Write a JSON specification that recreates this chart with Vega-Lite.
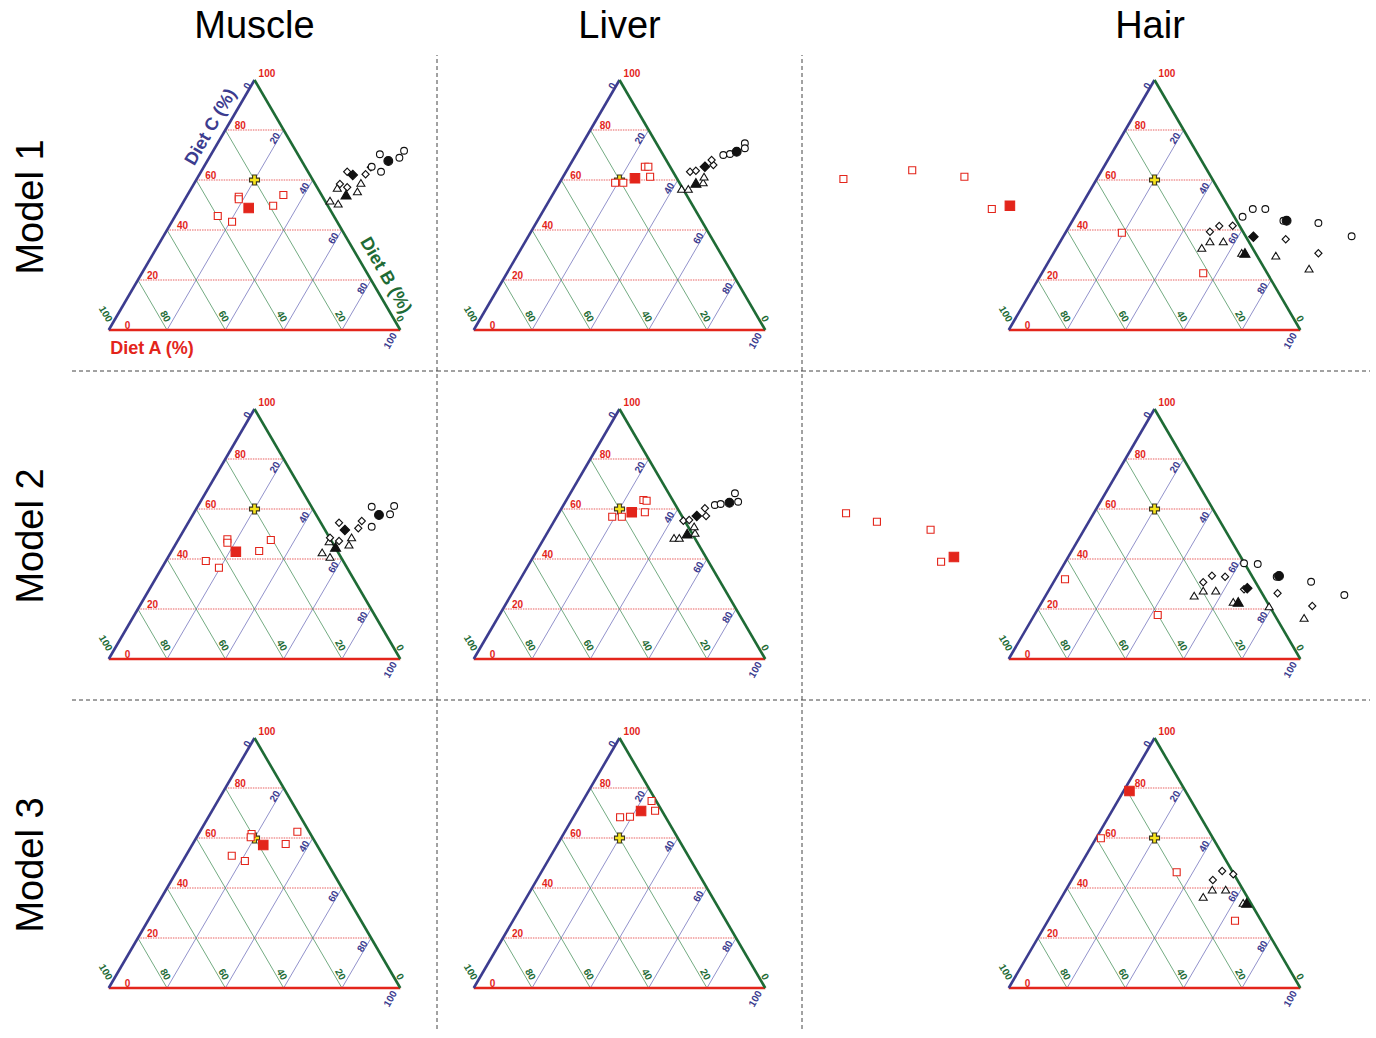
{
"$schema":"https://vega.github.io/schema/vega-lite/v6.json",
"background":"white",
"padding":{"left":12,"top":8,"right":0,"bottom":0},
"config":{"view":{"stroke":null},"font":"Liberation Sans","concat":{"spacing":0}},
"datasets":{
"gr":[{"x":10,"y":20,"x2":90,"y2":20},{"x":20,"y":40,"x2":80,"y2":40},{"x":30,"y":60,"x2":70,"y2":60},{"x":40,"y":80,"x2":60,"y2":80}],
"gbg":[{"c":"b","x":20,"y":0,"x2":60,"y2":80},{"c":"b","x":40,"y":0,"x2":70,"y2":60},{"c":"b","x":60,"y":0,"x2":80,"y2":40},{"c":"b","x":80,"y":0,"x2":90,"y2":20},{"c":"g","x":80,"y":0,"x2":40,"y2":80},{"c":"g","x":60,"y":0,"x2":30,"y2":60},{"c":"g","x":40,"y":0,"x2":20,"y2":40},{"c":"g","x":20,"y":0,"x2":10,"y2":20}],
"edges":[{"c":"er","x":0,"y":0,"x2":100,"y2":0},{"c":"eb","x":0,"y":0,"x2":50,"y2":100},{"c":"eg","x":100,"y":0,"x2":50,"y2":100}],
"tr":[{"t":"0","x":5.5,"y":0},{"t":"20","x":13.1,"y":20},{"t":"40","x":23.4,"y":40},{"t":"60","x":33.1,"y":60},{"t":"80","x":43.2,"y":80},{"t":"100","x":51.4,"y":101}],
"tb":[{"t":"0","x":50,"y":100},{"t":"20","x":60,"y":80},{"t":"40","x":70,"y":60},{"t":"60","x":80,"y":40},{"t":"80","x":90,"y":20},{"t":"100","x":100,"y":0}],
"tg":[{"t":"100","x":0,"y":0},{"t":"80","x":20,"y":0},{"t":"60","x":40,"y":0},{"t":"40","x":60,"y":0},{"t":"20","x":80,"y":0},{"t":"0","x":100,"y":0}],
"sepV1":[{"x":112.6,"y":-16.4,"y2":110}],
"sepV":[{"x":112.6,"y":-16.4,"y2":115.2}],
"sepHML":[{"x":-12.6,"x2":112.6,"y":-16.4}],
"sepHH":[{"x":-70.9,"x2":123.9,"y":-16.4}],
"ttA":[{"t":"Diet A (%)","x":0.5,"y":-9.6}],
"ttC":[{"t":"Diet C (%)","x":35.1,"y":81.1}],
"ttB":[{"t":"Diet B (%)","x":94.85,"y":21.7}],
"pM1":[{"s":"pl","x":50,"y":60},{"s":"sqo","x":44.6,"y":53.3},{"s":"sqo","x":44.6,"y":52.3},{"s":"sqo","x":37.4,"y":45.6},{"s":"sqo","x":42.3,"y":43.3},{"s":"sqo","x":56.4,"y":49.7},{"s":"sqo","x":59.9,"y":54.0},{"s":"sqf","x":48.0,"y":48.8},{"s":"tro","x":75.9,"y":51.6},{"s":"tro","x":78.7,"y":50.4},{"s":"tro","x":78.4,"y":56.7},{"s":"tro","x":85.3,"y":55.3},{"s":"tro","x":86.5,"y":58.7},{"s":"dio","x":79.3,"y":58.4},{"s":"dio","x":81.8,"y":57.1},{"s":"dio","x":81.8,"y":63.3},{"s":"dio","x":88.1,"y":62.3},{"s":"dio","x":89.9,"y":65.1},{"s":"cio","x":90.2,"y":65.3},{"s":"cio","x":93.4,"y":63.3},{"s":"cio","x":93.0,"y":70.3},{"s":"cio","x":99.7,"y":68.9},{"s":"cio","x":101.3,"y":71.7},{"s":"trf","x":81.4,"y":54.0},{"s":"dif","x":83.7,"y":62.0},{"s":"cif","x":95.9,"y":67.6}],
"pL1":[{"s":"pl","x":50,"y":60},{"s":"sqo","x":48.5,"y":58.9},{"s":"sqo","x":51.3,"y":58.9},{"s":"sqo","x":58.7,"y":65.3},{"s":"sqo","x":59.9,"y":65.3},{"s":"sqo","x":60.5,"y":61.3},{"s":"sqf","x":55.3,"y":60.7},{"s":"tro","x":71.3,"y":56.3},{"s":"tro","x":73.6,"y":56.3},{"s":"tro","x":78.7,"y":58.9},{"s":"tro","x":79.0,"y":61.2},{"s":"dio","x":74.2,"y":63.3},{"s":"dio","x":76.2,"y":63.7},{"s":"dio","x":82.2,"y":66.0},{"s":"dio","x":81.6,"y":68.0},{"s":"cio","x":85.6,"y":70.0},{"s":"cio","x":87.9,"y":70.4},{"s":"cio","x":93.0,"y":74.7},{"s":"cio","x":93.0,"y":72.7},{"s":"trf","x":76.2,"y":58.7},{"s":"dif","x":79.3,"y":65.3},{"s":"cif","x":90.2,"y":71.3}],
"pH1":[{"s":"pl","x":50,"y":60},{"s":"sqo","x":-56.7,"y":60.4},{"s":"sqo","x":-33.1,"y":63.9},{"s":"sqo","x":-15.2,"y":61.3},{"s":"sqo","x":-5.8,"y":48.4},{"s":"sqo","x":38.8,"y":38.9},{"s":"sqo","x":66.7,"y":22.7},{"s":"sqf","x":0.4,"y":49.7},{"s":"tro","x":66.2,"y":32.7},{"s":"tro","x":69.0,"y":35.3},{"s":"tro","x":73.6,"y":35.3},{"s":"tro","x":91.6,"y":29.6},{"s":"tro","x":103.0,"y":24.4},{"s":"tro","x":79.9,"y":30.7},{"s":"dio","x":69.0,"y":39.3},{"s":"dio","x":72.2,"y":41.6},{"s":"dio","x":76.8,"y":41.7},{"s":"dio","x":95.0,"y":36.3},{"s":"dio","x":106.2,"y":30.7},{"s":"cio","x":80.2,"y":45.3},{"s":"cio","x":83.7,"y":48.4},{"s":"cio","x":88.0,"y":48.4},{"s":"cio","x":106.2,"y":42.8},{"s":"cio","x":117.6,"y":37.5},{"s":"cio","x":94.2,"y":43.7},{"s":"trf","x":81.0,"y":30.7},{"s":"dif","x":83.9,"y":37.3},{"s":"cif","x":95.3,"y":43.7}],
"pM2":[{"s":"pl","x":50,"y":60},{"s":"sqo","x":40.7,"y":47.9},{"s":"sqo","x":40.7,"y":46.5},{"s":"sqo","x":55.6,"y":47.6},{"s":"sqo","x":51.6,"y":43.2},{"s":"sqo","x":33.3,"y":39.2},{"s":"sqo","x":37.8,"y":36.5},{"s":"sqf","x":43.6,"y":42.9},{"s":"tro","x":83.3,"y":48.5},{"s":"tro","x":82.4,"y":45.6},{"s":"tro","x":73.2,"y":42.5},{"s":"tro","x":75.9,"y":40.7},{"s":"tro","x":75.6,"y":46.9},{"s":"dio","x":79.0,"y":54.5},{"s":"dio","x":86.8,"y":55.2},{"s":"dio","x":85.6,"y":52.3},{"s":"dio","x":75.9,"y":48.5},{"s":"dio","x":79.0,"y":47.2},{"s":"cio","x":90.2,"y":60.9},{"s":"cio","x":97.9,"y":61.2},{"s":"cio","x":96.5,"y":57.9},{"s":"cio","x":90.2,"y":52.9},{"s":"trf","x":77.8,"y":44.7},{"s":"dif","x":81.0,"y":51.6},{"s":"cif","x":92.7,"y":57.6}],
"pL2":[{"s":"pl","x":50,"y":60},{"s":"sqo","x":58.2,"y":63.6},{"s":"sqo","x":59.3,"y":63.3},{"s":"sqo","x":58.7,"y":58.7},{"s":"sqo","x":47.5,"y":56.9},{"s":"sqo","x":50.8,"y":56.9},{"s":"sqf","x":54.2,"y":58.7},{"s":"tro","x":68.7,"y":48.3},{"s":"tro","x":70.5,"y":48.3},{"s":"tro","x":75.9,"y":50.3},{"s":"tro","x":75.6,"y":52.9},{"s":"dio","x":71.9,"y":55.3},{"s":"dio","x":73.9,"y":55.6},{"s":"dio","x":79.3,"y":60.3},{"s":"dio","x":79.7,"y":57.2},{"s":"cio","x":82.7,"y":61.6},{"s":"cio","x":84.7,"y":62.0},{"s":"cio","x":89.6,"y":66.3},{"s":"cio","x":90.7,"y":62.9},{"s":"trf","x":73.2,"y":50.0},{"s":"dif","x":76.5,"y":57.2},{"s":"cif","x":87.7,"y":62.5}],
"pH2":[{"s":"pl","x":50,"y":60},{"s":"sqo","x":-55.8,"y":58.3},{"s":"sqo","x":-45.2,"y":54.9},{"s":"sqo","x":-26.8,"y":51.7},{"s":"sqo","x":-23.2,"y":38.9},{"s":"sqo","x":19.3,"y":31.9},{"s":"sqo","x":51.1,"y":17.6},{"s":"sqf","x":-18.8,"y":40.8},{"s":"tro","x":63.6,"y":25.2},{"s":"tro","x":66.7,"y":27.2},{"s":"tro","x":71.0,"y":27.2},{"s":"tro","x":89.3,"y":20.9},{"s":"tro","x":101.3,"y":16.3},{"s":"tro","x":77.0,"y":22.7},{"s":"dio","x":66.7,"y":30.7},{"s":"dio","x":69.7,"y":33.3},{"s":"dio","x":74.2,"y":32.9},{"s":"dio","x":92.2,"y":26.3},{"s":"dio","x":104.1,"y":21.2},{"s":"dio","x":80.7,"y":27.9},{"s":"cio","x":80.7,"y":38.3},{"s":"cio","x":85.4,"y":38.0},{"s":"cio","x":103.7,"y":30.9},{"s":"cio","x":115.1,"y":25.6},{"s":"cio","x":91.9,"y":32.9},{"s":"trf","x":78.7,"y":22.7},{"s":"dif","x":81.8,"y":28.3},{"s":"cif","x":92.7,"y":33.2}],
"pM3":[{"s":"pl","x":50,"y":60},{"s":"sqo","x":49.0,"y":61.6},{"s":"sqo","x":48.7,"y":60.3},{"s":"sqo","x":64.7,"y":62.5},{"s":"sqo","x":60.7,"y":57.6},{"s":"sqo","x":42.2,"y":52.9},{"s":"sqo","x":46.7,"y":50.8},{"s":"sqf","x":53.0,"y":57.2}],
"pL3":[{"s":"pl","x":50,"y":60},{"s":"sqo","x":50.2,"y":68.3},{"s":"sqo","x":53.6,"y":68.5},{"s":"sqo","x":61.0,"y":74.8},{"s":"sqo","x":62.2,"y":70.9},{"s":"sqf","x":57.4,"y":70.8}],
"pH3":[{"s":"pl","x":50,"y":60},{"s":"sqo","x":31.6,"y":59.9},{"s":"sqo","x":57.6,"y":46.3},{"s":"sqo","x":77.6,"y":26.9},{"s":"sqf","x":41.4,"y":78.8},{"s":"tro","x":66.7,"y":36.3},{"s":"tro","x":69.8,"y":39.2},{"s":"tro","x":74.4,"y":39.2},{"s":"tro","x":80.4,"y":33.9},{"s":"dio","x":70.0,"y":43.2},{"s":"dio","x":73.2,"y":46.8},{"s":"dio","x":77.0,"y":45.5},{"s":"trf","x":81.6,"y":33.9}]
},
"columns":3,
"spacing":0,
"bounds":"flush",
"resolve":{"scale":{"x":"independent","y":"independent"}},
"concat":[
{"width":365,"height":329,
"title":{"text":"Muscle","fontSize":38,"fontWeight":"normal","color":"black","baseline":"alphabetic","offset":-34,"anchor":"middle"},
"encoding":{"x":{"field":"x","type":"quantitative","scale":{"domain":[-12.6,112.6],"nice":false,"zero":false},"axis":null},
"y":{"field":"y","type":"quantitative","scale":{"domain":[-16.4,115.2],"nice":false,"zero":false},"axis":{"title":"Model 1","titleFontSize":38,"titleFontWeight":"normal","titleColor":"black","labels":false,"ticks":false,"domain":false,"grid":false,"titlePadding":22}}},
"layer":[
{"data":{"name":"gr"},"mark":{"type":"rule","color":"#F09595","strokeWidth":1.4,"strokeDash":[1.5,1]},"encoding":{"x2":{"field":"x2"},"y2":{"field":"y2"}}},
{"data":{"name":"gbg"},"mark":{"type":"rule","strokeWidth":0.8},"encoding":{"x2":{"field":"x2"},"y2":{"field":"y2"},"color":{"field":"c","type":"nominal","scale":{"domain":["b","g","eb","eg","er"],"range":["#7676BE","#4F9562","#3C3C8F","#1E6B35","#E3251B"]},"legend":null}}},
{"data":{"name":"edges"},"mark":{"type":"rule","strokeWidth":2.6},"encoding":{"x2":{"field":"x2"},"y2":{"field":"y2"},"color":{"field":"c","type":"nominal","scale":{"domain":["b","g","eb","eg","er"],"range":["#7676BE","#4F9562","#3C3C8F","#1E6B35","#E3251B"]},"legend":null}}},
{"data":{"name":"tr"},"mark":{"type":"text","align":"left","baseline":"alphabetic","dy":-1,"fontSize":10,"fontWeight":"bold","color":"#E3251B"},"encoding":{"text":{"field":"t","type":"nominal"}}},
{"data":{"name":"tb"},"mark":{"type":"text","align":"right","baseline":"middle","angle":300,"dx":-6,"dy":-3,"fontSize":10,"fontWeight":"bold","color":"#3C3C8F"},"encoding":{"text":{"field":"t","type":"nominal"}}},
{"data":{"name":"tg"},"mark":{"type":"text","align":"right","baseline":"middle","angle":60,"dx":-7,"dy":-5,"fontSize":10,"fontWeight":"bold","color":"#1E6B35"},"encoding":{"text":{"field":"t","type":"nominal"}}},
{"data":{"name":"pM1"},"mark":{"type":"point","filled":true,"opacity":1,"size":100,"strokeWidth":1.1},"encoding":{"shape":{"field":"s","type":"nominal","scale":{"domain":["pl","sqo","sqf","tro","dio","cio","trf","dif","cif"],"range":["M-0.38,-1H0.38V-0.38H1V0.38H0.38V1H-0.38V0.38H-1V-0.38H-0.38Z","M-0.7,-0.7H0.7V0.7H-0.7Z","M-0.95,-0.95H0.95V0.95H-0.95Z","M0,-0.75L0.8,0.6L-0.8,0.6Z","M0,-0.72L0.72,0L0,0.72L-0.72,0Z","M0.68,0A0.68,0.68,0,1,1,-0.68,0A0.68,0.68,0,1,1,0.68,0Z","M0,-0.95L1,0.8L-1,0.8Z","M0,-0.95L0.95,0L0,0.95L-0.95,0Z","M0.88,0A0.88,0.88,0,1,1,-0.88,0A0.88,0.88,0,1,1,0.88,0Z"]},"legend":null},"fill":{"field":"s","type":"nominal","scale":{"domain":["pl","sqo","sqf","tro","dio","cio","trf","dif","cif"],"range":["#F6E41C","white","#E3251B","white","white","white","#111111","#111111","#111111"]},"legend":null},"stroke":{"field":"s","type":"nominal","scale":{"domain":["pl","sqo","sqf","tro","dio","cio","trf","dif","cif"],"range":["#3B3520","#E3251B","#E3251B","#111111","#111111","#111111","#111111","#111111","#111111"]},"legend":null}}},
{"data":{"name":"sepV1"},"mark":{"type":"rule","color":"#444444","strokeDash":[4,3],"strokeWidth":1},"encoding":{"y2":{"field":"y2"}}},
{"data":{"name":"sepHML"},"mark":{"type":"rule","color":"#444444","strokeDash":[4,3],"strokeWidth":1},"encoding":{"x2":{"field":"x2"}}},
{"data":{"name":"ttA"},"mark":{"type":"text","align":"left","baseline":"alphabetic","fontSize":18,"fontWeight":"bold","color":"#E3251B"},"encoding":{"text":{"field":"t","type":"nominal"}}},
{"data":{"name":"ttC"},"mark":{"type":"text","align":"center","baseline":"middle","angle":300,"fontSize":18,"fontWeight":"bold","color":"#3C3C8F"},"encoding":{"text":{"field":"t","type":"nominal"}}},
{"data":{"name":"ttB"},"mark":{"type":"text","align":"center","baseline":"middle","angle":60,"fontSize":18,"fontWeight":"bold","color":"#1E6B35"},"encoding":{"text":{"field":"t","type":"nominal"}}}
]},
{"width":365,"height":329,
"title":{"text":"Liver","fontSize":38,"fontWeight":"normal","color":"black","baseline":"alphabetic","offset":-34,"anchor":"middle"},
"encoding":{"x":{"field":"x","type":"quantitative","scale":{"domain":[-12.6,112.6],"nice":false,"zero":false},"axis":null},
"y":{"field":"y","type":"quantitative","scale":{"domain":[-16.4,115.2],"nice":false,"zero":false},"axis":null}},
"layer":[
{"data":{"name":"gr"},"mark":{"type":"rule","color":"#F09595","strokeWidth":1.4,"strokeDash":[1.5,1]},"encoding":{"x2":{"field":"x2"},"y2":{"field":"y2"}}},
{"data":{"name":"gbg"},"mark":{"type":"rule","strokeWidth":0.8},"encoding":{"x2":{"field":"x2"},"y2":{"field":"y2"},"color":{"field":"c","type":"nominal","scale":{"domain":["b","g","eb","eg","er"],"range":["#7676BE","#4F9562","#3C3C8F","#1E6B35","#E3251B"]},"legend":null}}},
{"data":{"name":"edges"},"mark":{"type":"rule","strokeWidth":2.6},"encoding":{"x2":{"field":"x2"},"y2":{"field":"y2"},"color":{"field":"c","type":"nominal","scale":{"domain":["b","g","eb","eg","er"],"range":["#7676BE","#4F9562","#3C3C8F","#1E6B35","#E3251B"]},"legend":null}}},
{"data":{"name":"tr"},"mark":{"type":"text","align":"left","baseline":"alphabetic","dy":-1,"fontSize":10,"fontWeight":"bold","color":"#E3251B"},"encoding":{"text":{"field":"t","type":"nominal"}}},
{"data":{"name":"tb"},"mark":{"type":"text","align":"right","baseline":"middle","angle":300,"dx":-6,"dy":-3,"fontSize":10,"fontWeight":"bold","color":"#3C3C8F"},"encoding":{"text":{"field":"t","type":"nominal"}}},
{"data":{"name":"tg"},"mark":{"type":"text","align":"right","baseline":"middle","angle":60,"dx":-7,"dy":-5,"fontSize":10,"fontWeight":"bold","color":"#1E6B35"},"encoding":{"text":{"field":"t","type":"nominal"}}},
{"data":{"name":"pL1"},"mark":{"type":"point","filled":true,"opacity":1,"size":100,"strokeWidth":1.1},"encoding":{"shape":{"field":"s","type":"nominal","scale":{"domain":["pl","sqo","sqf","tro","dio","cio","trf","dif","cif"],"range":["M-0.38,-1H0.38V-0.38H1V0.38H0.38V1H-0.38V0.38H-1V-0.38H-0.38Z","M-0.7,-0.7H0.7V0.7H-0.7Z","M-0.95,-0.95H0.95V0.95H-0.95Z","M0,-0.75L0.8,0.6L-0.8,0.6Z","M0,-0.72L0.72,0L0,0.72L-0.72,0Z","M0.68,0A0.68,0.68,0,1,1,-0.68,0A0.68,0.68,0,1,1,0.68,0Z","M0,-0.95L1,0.8L-1,0.8Z","M0,-0.95L0.95,0L0,0.95L-0.95,0Z","M0.88,0A0.88,0.88,0,1,1,-0.88,0A0.88,0.88,0,1,1,0.88,0Z"]},"legend":null},"fill":{"field":"s","type":"nominal","scale":{"domain":["pl","sqo","sqf","tro","dio","cio","trf","dif","cif"],"range":["#F6E41C","white","#E3251B","white","white","white","#111111","#111111","#111111"]},"legend":null},"stroke":{"field":"s","type":"nominal","scale":{"domain":["pl","sqo","sqf","tro","dio","cio","trf","dif","cif"],"range":["#3B3520","#E3251B","#E3251B","#111111","#111111","#111111","#111111","#111111","#111111"]},"legend":null}}},
{"data":{"name":"sepV1"},"mark":{"type":"rule","color":"#444444","strokeDash":[4,3],"strokeWidth":1},"encoding":{"y2":{"field":"y2"}}},
{"data":{"name":"sepHML"},"mark":{"type":"rule","color":"#444444","strokeDash":[4,3],"strokeWidth":1},"encoding":{"x2":{"field":"x2"}}}
]},
{"width":568,"height":329,
"title":{"text":"Hair","fontSize":38,"fontWeight":"normal","color":"black","baseline":"alphabetic","offset":-34,"anchor":"middle","dx":64},
"encoding":{"x":{"field":"x","type":"quantitative","scale":{"domain":[-70.9,123.9],"nice":false,"zero":false},"axis":null},
"y":{"field":"y","type":"quantitative","scale":{"domain":[-16.4,115.2],"nice":false,"zero":false},"axis":null}},
"layer":[
{"data":{"name":"gr"},"mark":{"type":"rule","color":"#F09595","strokeWidth":1.4,"strokeDash":[1.5,1]},"encoding":{"x2":{"field":"x2"},"y2":{"field":"y2"}}},
{"data":{"name":"gbg"},"mark":{"type":"rule","strokeWidth":0.8},"encoding":{"x2":{"field":"x2"},"y2":{"field":"y2"},"color":{"field":"c","type":"nominal","scale":{"domain":["b","g","eb","eg","er"],"range":["#7676BE","#4F9562","#3C3C8F","#1E6B35","#E3251B"]},"legend":null}}},
{"data":{"name":"edges"},"mark":{"type":"rule","strokeWidth":2.6},"encoding":{"x2":{"field":"x2"},"y2":{"field":"y2"},"color":{"field":"c","type":"nominal","scale":{"domain":["b","g","eb","eg","er"],"range":["#7676BE","#4F9562","#3C3C8F","#1E6B35","#E3251B"]},"legend":null}}},
{"data":{"name":"tr"},"mark":{"type":"text","align":"left","baseline":"alphabetic","dy":-1,"fontSize":10,"fontWeight":"bold","color":"#E3251B"},"encoding":{"text":{"field":"t","type":"nominal"}}},
{"data":{"name":"tb"},"mark":{"type":"text","align":"right","baseline":"middle","angle":300,"dx":-6,"dy":-3,"fontSize":10,"fontWeight":"bold","color":"#3C3C8F"},"encoding":{"text":{"field":"t","type":"nominal"}}},
{"data":{"name":"tg"},"mark":{"type":"text","align":"right","baseline":"middle","angle":60,"dx":-7,"dy":-5,"fontSize":10,"fontWeight":"bold","color":"#1E6B35"},"encoding":{"text":{"field":"t","type":"nominal"}}},
{"data":{"name":"pH1"},"mark":{"type":"point","filled":true,"opacity":1,"size":100,"strokeWidth":1.1},"encoding":{"shape":{"field":"s","type":"nominal","scale":{"domain":["pl","sqo","sqf","tro","dio","cio","trf","dif","cif"],"range":["M-0.38,-1H0.38V-0.38H1V0.38H0.38V1H-0.38V0.38H-1V-0.38H-0.38Z","M-0.7,-0.7H0.7V0.7H-0.7Z","M-0.95,-0.95H0.95V0.95H-0.95Z","M0,-0.75L0.8,0.6L-0.8,0.6Z","M0,-0.72L0.72,0L0,0.72L-0.72,0Z","M0.68,0A0.68,0.68,0,1,1,-0.68,0A0.68,0.68,0,1,1,0.68,0Z","M0,-0.95L1,0.8L-1,0.8Z","M0,-0.95L0.95,0L0,0.95L-0.95,0Z","M0.88,0A0.88,0.88,0,1,1,-0.88,0A0.88,0.88,0,1,1,0.88,0Z"]},"legend":null},"fill":{"field":"s","type":"nominal","scale":{"domain":["pl","sqo","sqf","tro","dio","cio","trf","dif","cif"],"range":["#F6E41C","white","#E3251B","white","white","white","#111111","#111111","#111111"]},"legend":null},"stroke":{"field":"s","type":"nominal","scale":{"domain":["pl","sqo","sqf","tro","dio","cio","trf","dif","cif"],"range":["#3B3520","#E3251B","#E3251B","#111111","#111111","#111111","#111111","#111111","#111111"]},"legend":null}}},
{"data":{"name":"sepHH"},"mark":{"type":"rule","color":"#444444","strokeDash":[4,3],"strokeWidth":1},"encoding":{"x2":{"field":"x2"}}}
]},
{"width":365,"height":329,
"encoding":{"x":{"field":"x","type":"quantitative","scale":{"domain":[-12.6,112.6],"nice":false,"zero":false},"axis":null},
"y":{"field":"y","type":"quantitative","scale":{"domain":[-16.4,115.2],"nice":false,"zero":false},"axis":{"title":"Model 2","titleFontSize":38,"titleFontWeight":"normal","titleColor":"black","labels":false,"ticks":false,"domain":false,"grid":false,"titlePadding":22}}},
"layer":[
{"data":{"name":"gr"},"mark":{"type":"rule","color":"#F09595","strokeWidth":1.4,"strokeDash":[1.5,1]},"encoding":{"x2":{"field":"x2"},"y2":{"field":"y2"}}},
{"data":{"name":"gbg"},"mark":{"type":"rule","strokeWidth":0.8},"encoding":{"x2":{"field":"x2"},"y2":{"field":"y2"},"color":{"field":"c","type":"nominal","scale":{"domain":["b","g","eb","eg","er"],"range":["#7676BE","#4F9562","#3C3C8F","#1E6B35","#E3251B"]},"legend":null}}},
{"data":{"name":"edges"},"mark":{"type":"rule","strokeWidth":2.6},"encoding":{"x2":{"field":"x2"},"y2":{"field":"y2"},"color":{"field":"c","type":"nominal","scale":{"domain":["b","g","eb","eg","er"],"range":["#7676BE","#4F9562","#3C3C8F","#1E6B35","#E3251B"]},"legend":null}}},
{"data":{"name":"tr"},"mark":{"type":"text","align":"left","baseline":"alphabetic","dy":-1,"fontSize":10,"fontWeight":"bold","color":"#E3251B"},"encoding":{"text":{"field":"t","type":"nominal"}}},
{"data":{"name":"tb"},"mark":{"type":"text","align":"right","baseline":"middle","angle":300,"dx":-6,"dy":-3,"fontSize":10,"fontWeight":"bold","color":"#3C3C8F"},"encoding":{"text":{"field":"t","type":"nominal"}}},
{"data":{"name":"tg"},"mark":{"type":"text","align":"right","baseline":"middle","angle":60,"dx":-7,"dy":-5,"fontSize":10,"fontWeight":"bold","color":"#1E6B35"},"encoding":{"text":{"field":"t","type":"nominal"}}},
{"data":{"name":"pM2"},"mark":{"type":"point","filled":true,"opacity":1,"size":100,"strokeWidth":1.1},"encoding":{"shape":{"field":"s","type":"nominal","scale":{"domain":["pl","sqo","sqf","tro","dio","cio","trf","dif","cif"],"range":["M-0.38,-1H0.38V-0.38H1V0.38H0.38V1H-0.38V0.38H-1V-0.38H-0.38Z","M-0.7,-0.7H0.7V0.7H-0.7Z","M-0.95,-0.95H0.95V0.95H-0.95Z","M0,-0.75L0.8,0.6L-0.8,0.6Z","M0,-0.72L0.72,0L0,0.72L-0.72,0Z","M0.68,0A0.68,0.68,0,1,1,-0.68,0A0.68,0.68,0,1,1,0.68,0Z","M0,-0.95L1,0.8L-1,0.8Z","M0,-0.95L0.95,0L0,0.95L-0.95,0Z","M0.88,0A0.88,0.88,0,1,1,-0.88,0A0.88,0.88,0,1,1,0.88,0Z"]},"legend":null},"fill":{"field":"s","type":"nominal","scale":{"domain":["pl","sqo","sqf","tro","dio","cio","trf","dif","cif"],"range":["#F6E41C","white","#E3251B","white","white","white","#111111","#111111","#111111"]},"legend":null},"stroke":{"field":"s","type":"nominal","scale":{"domain":["pl","sqo","sqf","tro","dio","cio","trf","dif","cif"],"range":["#3B3520","#E3251B","#E3251B","#111111","#111111","#111111","#111111","#111111","#111111"]},"legend":null}}},
{"data":{"name":"sepV"},"mark":{"type":"rule","color":"#444444","strokeDash":[4,3],"strokeWidth":1},"encoding":{"y2":{"field":"y2"}}},
{"data":{"name":"sepHML"},"mark":{"type":"rule","color":"#444444","strokeDash":[4,3],"strokeWidth":1},"encoding":{"x2":{"field":"x2"}}}
]},
{"width":365,"height":329,
"encoding":{"x":{"field":"x","type":"quantitative","scale":{"domain":[-12.6,112.6],"nice":false,"zero":false},"axis":null},
"y":{"field":"y","type":"quantitative","scale":{"domain":[-16.4,115.2],"nice":false,"zero":false},"axis":null}},
"layer":[
{"data":{"name":"gr"},"mark":{"type":"rule","color":"#F09595","strokeWidth":1.4,"strokeDash":[1.5,1]},"encoding":{"x2":{"field":"x2"},"y2":{"field":"y2"}}},
{"data":{"name":"gbg"},"mark":{"type":"rule","strokeWidth":0.8},"encoding":{"x2":{"field":"x2"},"y2":{"field":"y2"},"color":{"field":"c","type":"nominal","scale":{"domain":["b","g","eb","eg","er"],"range":["#7676BE","#4F9562","#3C3C8F","#1E6B35","#E3251B"]},"legend":null}}},
{"data":{"name":"edges"},"mark":{"type":"rule","strokeWidth":2.6},"encoding":{"x2":{"field":"x2"},"y2":{"field":"y2"},"color":{"field":"c","type":"nominal","scale":{"domain":["b","g","eb","eg","er"],"range":["#7676BE","#4F9562","#3C3C8F","#1E6B35","#E3251B"]},"legend":null}}},
{"data":{"name":"tr"},"mark":{"type":"text","align":"left","baseline":"alphabetic","dy":-1,"fontSize":10,"fontWeight":"bold","color":"#E3251B"},"encoding":{"text":{"field":"t","type":"nominal"}}},
{"data":{"name":"tb"},"mark":{"type":"text","align":"right","baseline":"middle","angle":300,"dx":-6,"dy":-3,"fontSize":10,"fontWeight":"bold","color":"#3C3C8F"},"encoding":{"text":{"field":"t","type":"nominal"}}},
{"data":{"name":"tg"},"mark":{"type":"text","align":"right","baseline":"middle","angle":60,"dx":-7,"dy":-5,"fontSize":10,"fontWeight":"bold","color":"#1E6B35"},"encoding":{"text":{"field":"t","type":"nominal"}}},
{"data":{"name":"pL2"},"mark":{"type":"point","filled":true,"opacity":1,"size":100,"strokeWidth":1.1},"encoding":{"shape":{"field":"s","type":"nominal","scale":{"domain":["pl","sqo","sqf","tro","dio","cio","trf","dif","cif"],"range":["M-0.38,-1H0.38V-0.38H1V0.38H0.38V1H-0.38V0.38H-1V-0.38H-0.38Z","M-0.7,-0.7H0.7V0.7H-0.7Z","M-0.95,-0.95H0.95V0.95H-0.95Z","M0,-0.75L0.8,0.6L-0.8,0.6Z","M0,-0.72L0.72,0L0,0.72L-0.72,0Z","M0.68,0A0.68,0.68,0,1,1,-0.68,0A0.68,0.68,0,1,1,0.68,0Z","M0,-0.95L1,0.8L-1,0.8Z","M0,-0.95L0.95,0L0,0.95L-0.95,0Z","M0.88,0A0.88,0.88,0,1,1,-0.88,0A0.88,0.88,0,1,1,0.88,0Z"]},"legend":null},"fill":{"field":"s","type":"nominal","scale":{"domain":["pl","sqo","sqf","tro","dio","cio","trf","dif","cif"],"range":["#F6E41C","white","#E3251B","white","white","white","#111111","#111111","#111111"]},"legend":null},"stroke":{"field":"s","type":"nominal","scale":{"domain":["pl","sqo","sqf","tro","dio","cio","trf","dif","cif"],"range":["#3B3520","#E3251B","#E3251B","#111111","#111111","#111111","#111111","#111111","#111111"]},"legend":null}}},
{"data":{"name":"sepV"},"mark":{"type":"rule","color":"#444444","strokeDash":[4,3],"strokeWidth":1},"encoding":{"y2":{"field":"y2"}}},
{"data":{"name":"sepHML"},"mark":{"type":"rule","color":"#444444","strokeDash":[4,3],"strokeWidth":1},"encoding":{"x2":{"field":"x2"}}}
]},
{"width":568,"height":329,
"encoding":{"x":{"field":"x","type":"quantitative","scale":{"domain":[-70.9,123.9],"nice":false,"zero":false},"axis":null},
"y":{"field":"y","type":"quantitative","scale":{"domain":[-16.4,115.2],"nice":false,"zero":false},"axis":null}},
"layer":[
{"data":{"name":"gr"},"mark":{"type":"rule","color":"#F09595","strokeWidth":1.4,"strokeDash":[1.5,1]},"encoding":{"x2":{"field":"x2"},"y2":{"field":"y2"}}},
{"data":{"name":"gbg"},"mark":{"type":"rule","strokeWidth":0.8},"encoding":{"x2":{"field":"x2"},"y2":{"field":"y2"},"color":{"field":"c","type":"nominal","scale":{"domain":["b","g","eb","eg","er"],"range":["#7676BE","#4F9562","#3C3C8F","#1E6B35","#E3251B"]},"legend":null}}},
{"data":{"name":"edges"},"mark":{"type":"rule","strokeWidth":2.6},"encoding":{"x2":{"field":"x2"},"y2":{"field":"y2"},"color":{"field":"c","type":"nominal","scale":{"domain":["b","g","eb","eg","er"],"range":["#7676BE","#4F9562","#3C3C8F","#1E6B35","#E3251B"]},"legend":null}}},
{"data":{"name":"tr"},"mark":{"type":"text","align":"left","baseline":"alphabetic","dy":-1,"fontSize":10,"fontWeight":"bold","color":"#E3251B"},"encoding":{"text":{"field":"t","type":"nominal"}}},
{"data":{"name":"tb"},"mark":{"type":"text","align":"right","baseline":"middle","angle":300,"dx":-6,"dy":-3,"fontSize":10,"fontWeight":"bold","color":"#3C3C8F"},"encoding":{"text":{"field":"t","type":"nominal"}}},
{"data":{"name":"tg"},"mark":{"type":"text","align":"right","baseline":"middle","angle":60,"dx":-7,"dy":-5,"fontSize":10,"fontWeight":"bold","color":"#1E6B35"},"encoding":{"text":{"field":"t","type":"nominal"}}},
{"data":{"name":"pH2"},"mark":{"type":"point","filled":true,"opacity":1,"size":100,"strokeWidth":1.1},"encoding":{"shape":{"field":"s","type":"nominal","scale":{"domain":["pl","sqo","sqf","tro","dio","cio","trf","dif","cif"],"range":["M-0.38,-1H0.38V-0.38H1V0.38H0.38V1H-0.38V0.38H-1V-0.38H-0.38Z","M-0.7,-0.7H0.7V0.7H-0.7Z","M-0.95,-0.95H0.95V0.95H-0.95Z","M0,-0.75L0.8,0.6L-0.8,0.6Z","M0,-0.72L0.72,0L0,0.72L-0.72,0Z","M0.68,0A0.68,0.68,0,1,1,-0.68,0A0.68,0.68,0,1,1,0.68,0Z","M0,-0.95L1,0.8L-1,0.8Z","M0,-0.95L0.95,0L0,0.95L-0.95,0Z","M0.88,0A0.88,0.88,0,1,1,-0.88,0A0.88,0.88,0,1,1,0.88,0Z"]},"legend":null},"fill":{"field":"s","type":"nominal","scale":{"domain":["pl","sqo","sqf","tro","dio","cio","trf","dif","cif"],"range":["#F6E41C","white","#E3251B","white","white","white","#111111","#111111","#111111"]},"legend":null},"stroke":{"field":"s","type":"nominal","scale":{"domain":["pl","sqo","sqf","tro","dio","cio","trf","dif","cif"],"range":["#3B3520","#E3251B","#E3251B","#111111","#111111","#111111","#111111","#111111","#111111"]},"legend":null}}},
{"data":{"name":"sepHH"},"mark":{"type":"rule","color":"#444444","strokeDash":[4,3],"strokeWidth":1},"encoding":{"x2":{"field":"x2"}}}
]},
{"width":365,"height":329,
"encoding":{"x":{"field":"x","type":"quantitative","scale":{"domain":[-12.6,112.6],"nice":false,"zero":false},"axis":null},
"y":{"field":"y","type":"quantitative","scale":{"domain":[-16.4,115.2],"nice":false,"zero":false},"axis":{"title":"Model 3","titleFontSize":38,"titleFontWeight":"normal","titleColor":"black","labels":false,"ticks":false,"domain":false,"grid":false,"titlePadding":22}}},
"layer":[
{"data":{"name":"gr"},"mark":{"type":"rule","color":"#F09595","strokeWidth":1.4,"strokeDash":[1.5,1]},"encoding":{"x2":{"field":"x2"},"y2":{"field":"y2"}}},
{"data":{"name":"gbg"},"mark":{"type":"rule","strokeWidth":0.8},"encoding":{"x2":{"field":"x2"},"y2":{"field":"y2"},"color":{"field":"c","type":"nominal","scale":{"domain":["b","g","eb","eg","er"],"range":["#7676BE","#4F9562","#3C3C8F","#1E6B35","#E3251B"]},"legend":null}}},
{"data":{"name":"edges"},"mark":{"type":"rule","strokeWidth":2.6},"encoding":{"x2":{"field":"x2"},"y2":{"field":"y2"},"color":{"field":"c","type":"nominal","scale":{"domain":["b","g","eb","eg","er"],"range":["#7676BE","#4F9562","#3C3C8F","#1E6B35","#E3251B"]},"legend":null}}},
{"data":{"name":"tr"},"mark":{"type":"text","align":"left","baseline":"alphabetic","dy":-1,"fontSize":10,"fontWeight":"bold","color":"#E3251B"},"encoding":{"text":{"field":"t","type":"nominal"}}},
{"data":{"name":"tb"},"mark":{"type":"text","align":"right","baseline":"middle","angle":300,"dx":-6,"dy":-3,"fontSize":10,"fontWeight":"bold","color":"#3C3C8F"},"encoding":{"text":{"field":"t","type":"nominal"}}},
{"data":{"name":"tg"},"mark":{"type":"text","align":"right","baseline":"middle","angle":60,"dx":-7,"dy":-5,"fontSize":10,"fontWeight":"bold","color":"#1E6B35"},"encoding":{"text":{"field":"t","type":"nominal"}}},
{"data":{"name":"pM3"},"mark":{"type":"point","filled":true,"opacity":1,"size":100,"strokeWidth":1.1},"encoding":{"shape":{"field":"s","type":"nominal","scale":{"domain":["pl","sqo","sqf","tro","dio","cio","trf","dif","cif"],"range":["M-0.38,-1H0.38V-0.38H1V0.38H0.38V1H-0.38V0.38H-1V-0.38H-0.38Z","M-0.7,-0.7H0.7V0.7H-0.7Z","M-0.95,-0.95H0.95V0.95H-0.95Z","M0,-0.75L0.8,0.6L-0.8,0.6Z","M0,-0.72L0.72,0L0,0.72L-0.72,0Z","M0.68,0A0.68,0.68,0,1,1,-0.68,0A0.68,0.68,0,1,1,0.68,0Z","M0,-0.95L1,0.8L-1,0.8Z","M0,-0.95L0.95,0L0,0.95L-0.95,0Z","M0.88,0A0.88,0.88,0,1,1,-0.88,0A0.88,0.88,0,1,1,0.88,0Z"]},"legend":null},"fill":{"field":"s","type":"nominal","scale":{"domain":["pl","sqo","sqf","tro","dio","cio","trf","dif","cif"],"range":["#F6E41C","white","#E3251B","white","white","white","#111111","#111111","#111111"]},"legend":null},"stroke":{"field":"s","type":"nominal","scale":{"domain":["pl","sqo","sqf","tro","dio","cio","trf","dif","cif"],"range":["#3B3520","#E3251B","#E3251B","#111111","#111111","#111111","#111111","#111111","#111111"]},"legend":null}}},
{"data":{"name":"sepV"},"mark":{"type":"rule","color":"#444444","strokeDash":[4,3],"strokeWidth":1},"encoding":{"y2":{"field":"y2"}}}
]},
{"width":365,"height":329,
"encoding":{"x":{"field":"x","type":"quantitative","scale":{"domain":[-12.6,112.6],"nice":false,"zero":false},"axis":null},
"y":{"field":"y","type":"quantitative","scale":{"domain":[-16.4,115.2],"nice":false,"zero":false},"axis":null}},
"layer":[
{"data":{"name":"gr"},"mark":{"type":"rule","color":"#F09595","strokeWidth":1.4,"strokeDash":[1.5,1]},"encoding":{"x2":{"field":"x2"},"y2":{"field":"y2"}}},
{"data":{"name":"gbg"},"mark":{"type":"rule","strokeWidth":0.8},"encoding":{"x2":{"field":"x2"},"y2":{"field":"y2"},"color":{"field":"c","type":"nominal","scale":{"domain":["b","g","eb","eg","er"],"range":["#7676BE","#4F9562","#3C3C8F","#1E6B35","#E3251B"]},"legend":null}}},
{"data":{"name":"edges"},"mark":{"type":"rule","strokeWidth":2.6},"encoding":{"x2":{"field":"x2"},"y2":{"field":"y2"},"color":{"field":"c","type":"nominal","scale":{"domain":["b","g","eb","eg","er"],"range":["#7676BE","#4F9562","#3C3C8F","#1E6B35","#E3251B"]},"legend":null}}},
{"data":{"name":"tr"},"mark":{"type":"text","align":"left","baseline":"alphabetic","dy":-1,"fontSize":10,"fontWeight":"bold","color":"#E3251B"},"encoding":{"text":{"field":"t","type":"nominal"}}},
{"data":{"name":"tb"},"mark":{"type":"text","align":"right","baseline":"middle","angle":300,"dx":-6,"dy":-3,"fontSize":10,"fontWeight":"bold","color":"#3C3C8F"},"encoding":{"text":{"field":"t","type":"nominal"}}},
{"data":{"name":"tg"},"mark":{"type":"text","align":"right","baseline":"middle","angle":60,"dx":-7,"dy":-5,"fontSize":10,"fontWeight":"bold","color":"#1E6B35"},"encoding":{"text":{"field":"t","type":"nominal"}}},
{"data":{"name":"pL3"},"mark":{"type":"point","filled":true,"opacity":1,"size":100,"strokeWidth":1.1},"encoding":{"shape":{"field":"s","type":"nominal","scale":{"domain":["pl","sqo","sqf","tro","dio","cio","trf","dif","cif"],"range":["M-0.38,-1H0.38V-0.38H1V0.38H0.38V1H-0.38V0.38H-1V-0.38H-0.38Z","M-0.7,-0.7H0.7V0.7H-0.7Z","M-0.95,-0.95H0.95V0.95H-0.95Z","M0,-0.75L0.8,0.6L-0.8,0.6Z","M0,-0.72L0.72,0L0,0.72L-0.72,0Z","M0.68,0A0.68,0.68,0,1,1,-0.68,0A0.68,0.68,0,1,1,0.68,0Z","M0,-0.95L1,0.8L-1,0.8Z","M0,-0.95L0.95,0L0,0.95L-0.95,0Z","M0.88,0A0.88,0.88,0,1,1,-0.88,0A0.88,0.88,0,1,1,0.88,0Z"]},"legend":null},"fill":{"field":"s","type":"nominal","scale":{"domain":["pl","sqo","sqf","tro","dio","cio","trf","dif","cif"],"range":["#F6E41C","white","#E3251B","white","white","white","#111111","#111111","#111111"]},"legend":null},"stroke":{"field":"s","type":"nominal","scale":{"domain":["pl","sqo","sqf","tro","dio","cio","trf","dif","cif"],"range":["#3B3520","#E3251B","#E3251B","#111111","#111111","#111111","#111111","#111111","#111111"]},"legend":null}}},
{"data":{"name":"sepV"},"mark":{"type":"rule","color":"#444444","strokeDash":[4,3],"strokeWidth":1},"encoding":{"y2":{"field":"y2"}}}
]},
{"width":568,"height":329,
"encoding":{"x":{"field":"x","type":"quantitative","scale":{"domain":[-70.9,123.9],"nice":false,"zero":false},"axis":null},
"y":{"field":"y","type":"quantitative","scale":{"domain":[-16.4,115.2],"nice":false,"zero":false},"axis":null}},
"layer":[
{"data":{"name":"gr"},"mark":{"type":"rule","color":"#F09595","strokeWidth":1.4,"strokeDash":[1.5,1]},"encoding":{"x2":{"field":"x2"},"y2":{"field":"y2"}}},
{"data":{"name":"gbg"},"mark":{"type":"rule","strokeWidth":0.8},"encoding":{"x2":{"field":"x2"},"y2":{"field":"y2"},"color":{"field":"c","type":"nominal","scale":{"domain":["b","g","eb","eg","er"],"range":["#7676BE","#4F9562","#3C3C8F","#1E6B35","#E3251B"]},"legend":null}}},
{"data":{"name":"edges"},"mark":{"type":"rule","strokeWidth":2.6},"encoding":{"x2":{"field":"x2"},"y2":{"field":"y2"},"color":{"field":"c","type":"nominal","scale":{"domain":["b","g","eb","eg","er"],"range":["#7676BE","#4F9562","#3C3C8F","#1E6B35","#E3251B"]},"legend":null}}},
{"data":{"name":"tr"},"mark":{"type":"text","align":"left","baseline":"alphabetic","dy":-1,"fontSize":10,"fontWeight":"bold","color":"#E3251B"},"encoding":{"text":{"field":"t","type":"nominal"}}},
{"data":{"name":"tb"},"mark":{"type":"text","align":"right","baseline":"middle","angle":300,"dx":-6,"dy":-3,"fontSize":10,"fontWeight":"bold","color":"#3C3C8F"},"encoding":{"text":{"field":"t","type":"nominal"}}},
{"data":{"name":"tg"},"mark":{"type":"text","align":"right","baseline":"middle","angle":60,"dx":-7,"dy":-5,"fontSize":10,"fontWeight":"bold","color":"#1E6B35"},"encoding":{"text":{"field":"t","type":"nominal"}}},
{"data":{"name":"pH3"},"mark":{"type":"point","filled":true,"opacity":1,"size":100,"strokeWidth":1.1},"encoding":{"shape":{"field":"s","type":"nominal","scale":{"domain":["pl","sqo","sqf","tro","dio","cio","trf","dif","cif"],"range":["M-0.38,-1H0.38V-0.38H1V0.38H0.38V1H-0.38V0.38H-1V-0.38H-0.38Z","M-0.7,-0.7H0.7V0.7H-0.7Z","M-0.95,-0.95H0.95V0.95H-0.95Z","M0,-0.75L0.8,0.6L-0.8,0.6Z","M0,-0.72L0.72,0L0,0.72L-0.72,0Z","M0.68,0A0.68,0.68,0,1,1,-0.68,0A0.68,0.68,0,1,1,0.68,0Z","M0,-0.95L1,0.8L-1,0.8Z","M0,-0.95L0.95,0L0,0.95L-0.95,0Z","M0.88,0A0.88,0.88,0,1,1,-0.88,0A0.88,0.88,0,1,1,0.88,0Z"]},"legend":null},"fill":{"field":"s","type":"nominal","scale":{"domain":["pl","sqo","sqf","tro","dio","cio","trf","dif","cif"],"range":["#F6E41C","white","#E3251B","white","white","white","#111111","#111111","#111111"]},"legend":null},"stroke":{"field":"s","type":"nominal","scale":{"domain":["pl","sqo","sqf","tro","dio","cio","trf","dif","cif"],"range":["#3B3520","#E3251B","#E3251B","#111111","#111111","#111111","#111111","#111111","#111111"]},"legend":null}}}
]}
]
}
